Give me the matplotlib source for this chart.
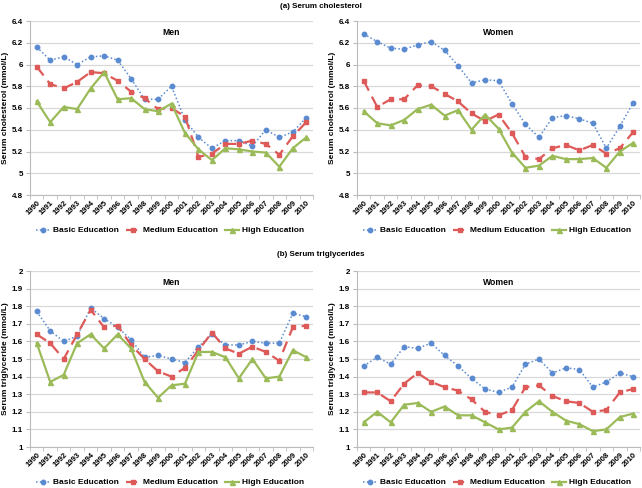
import matplotlib.pyplot as plt
import numpy as np

plt.rcParams["font.family"] = ["Liberation Sans", "DejaVu Sans"]

years = [str(y) for y in range(1990, 2011)]
groups = ["Basic Education", "Medium Education", "High Education"]

# (a) Serum cholesterol
chol_men_basic = [6.16, 6.04, 6.07, 6.00, 6.07, 6.08, 6.04, 5.87, 5.68, 5.68, 5.80,
                  5.49, 5.33, 5.23, 5.30, 5.30, 5.25, 5.40, 5.33, 5.38, 5.51]
chol_men_medium = [5.98, 5.82, 5.78, 5.84, 5.93, 5.92, 5.85, 5.75, 5.69, 5.59, 5.60,
                   5.52, 5.15, 5.18, 5.27, 5.27, 5.30, 5.27, 5.17, 5.34, 5.47]
chol_men_high = [5.66, 5.47, 5.61, 5.59, 5.78, 5.93, 5.68, 5.69, 5.59, 5.57, 5.64,
                 5.37, 5.22, 5.12, 5.23, 5.22, 5.20, 5.19, 5.06, 5.23, 5.33]
chol_women_basic = [6.28, 6.21, 6.15, 6.14, 6.18, 6.21, 6.13, 5.99, 5.83, 5.86, 5.85,
                    5.64, 5.45, 5.33, 5.51, 5.53, 5.50, 5.46, 5.23, 5.43, 5.65]
chol_women_medium = [5.85, 5.61, 5.68, 5.68, 5.81, 5.80, 5.73, 5.66, 5.55, 5.48, 5.54,
                     5.37, 5.15, 5.13, 5.23, 5.26, 5.21, 5.26, 5.18, 5.23, 5.38]
chol_women_high = [5.57, 5.46, 5.44, 5.49, 5.59, 5.63, 5.53, 5.58, 5.40, 5.54, 5.41,
                   5.19, 5.05, 5.07, 5.16, 5.13, 5.13, 5.14, 5.05, 5.20, 5.28]

# (b) Serum triglycerides
tg_men_basic = [1.77, 1.66, 1.60, 1.63, 1.79, 1.73, 1.68, 1.61, 1.51, 1.52, 1.50,
                1.48, 1.57, 1.64, 1.58, 1.58, 1.60, 1.59, 1.59, 1.76, 1.74]
tg_men_medium = [1.64, 1.59, 1.50, 1.64, 1.78, 1.68, 1.69, 1.58, 1.50, 1.43, 1.40,
                 1.45, 1.55, 1.65, 1.56, 1.53, 1.57, 1.54, 1.49, 1.68, 1.69]
tg_men_high = [1.59, 1.37, 1.41, 1.59, 1.64, 1.56, 1.64, 1.56, 1.37, 1.28, 1.35,
               1.36, 1.54, 1.54, 1.51, 1.39, 1.50, 1.39, 1.40, 1.55, 1.51]
tg_women_basic = [1.46, 1.51, 1.47, 1.57, 1.56, 1.59, 1.52, 1.46, 1.39, 1.33, 1.31,
                  1.34, 1.47, 1.50, 1.42, 1.45, 1.44, 1.34, 1.37, 1.42, 1.40]
tg_women_medium = [1.31, 1.31, 1.26, 1.36, 1.42, 1.37, 1.34, 1.32, 1.27, 1.20, 1.18,
                   1.21, 1.34, 1.35, 1.29, 1.26, 1.25, 1.20, 1.21, 1.31, 1.33]
tg_women_high = [1.14, 1.20, 1.14, 1.24, 1.25, 1.20, 1.23, 1.18, 1.18, 1.14, 1.10,
                 1.11, 1.20, 1.26, 1.20, 1.15, 1.13, 1.09, 1.10, 1.17, 1.19]

colors = ["#5A8BD0", "#DE5A58", "#9BBB59"]
styles = [
    dict(linestyle=(0, (1, 1.5)), marker="o", markersize=3.2, linewidth=1.1),
    dict(linestyle=(0, (5, 3)), marker="s", markersize=3.2, linewidth=1.6),
    dict(linestyle="-", marker="^", markersize=3.6, linewidth=1.6),
]

fig = plt.figure(figsize=(6.42, 4.88), dpi=100)
W, H = 642, 488


def draw_panel(ax, series, title, ylabel, ylim, yticks, ytick_labels):
    x = np.arange(len(years))
    for vals, color, st, name in zip(series, colors, styles, groups):
        ax.plot(x, vals, color=color, label=name, **st)
    ax.set_xlim(-0.5, len(years) - 0.5)
    ax.set_ylim(*ylim)
    ax.set_yticks(yticks)
    ax.set_yticklabels(ytick_labels, fontsize=5.8, fontweight="bold")
    ax.set_xticks(x)
    ax.set_xticklabels(years, rotation=45, fontsize=5.6, fontweight="bold",
                       ha="right", rotation_mode="anchor")
    ax.set_xticks(np.arange(-0.5, len(years)), minor=True)
    ax.tick_params(axis="x", which="major", length=0, pad=3)
    ax.tick_params(axis="x", which="minor", length=3, color="#BBBBBB")
    ax.tick_params(axis="y", length=3, color="#BBBBBB", pad=2)
    ax.grid(axis="y", color="#D9D9D9", linewidth=0.9)
    ax.set_axisbelow(True)
    for side in ["top", "right"]:
        ax.spines[side].set_visible(False)
    for side in ["left", "bottom"]:
        ax.spines[side].set_color("#BBBBBB")
        ax.spines[side].set_linewidth(0.8)
    ax.text(0.5, 0.935, title, transform=ax.transAxes, ha="center", va="center",
            fontsize=6.2, fontweight="bold")
    ax.set_ylabel(ylabel, fontsize=6, fontweight="bold", labelpad=2)
    # legend centred ~35 px below the plot area
    h_px = ax.get_position().height * H
    ax.legend(loc="center", bbox_to_anchor=(0.495, -35.5 / h_px), ncol=3, frameon=False,
              prop={"weight": "bold", "size": 6}, handlelength=1.7,
              columnspacing=0.9, handletextpad=0.3)


def add_axes(left, top, right, bottom):
    return fig.add_axes([left / W, 1 - bottom / H, (right - left) / W, (bottom - top) / H])


ax1 = add_axes(30, 21, 313, 195)
ax2 = add_axes(357, 21, 640, 195)
ax3 = add_axes(30, 271, 313, 447)
ax4 = add_axes(357, 271, 640, 447)

chol_ticks = [4.8, 5.0, 5.2, 5.4, 5.6, 5.8, 6.0, 6.2, 6.4]
chol_labels = ["4.8", "5", "5.2", "5.4", "5.6", "5.8", "6", "6.2", "6.4"]
tg_ticks = [1.0, 1.1, 1.2, 1.3, 1.4, 1.5, 1.6, 1.7, 1.8, 1.9, 2.0]
tg_labels = ["1", "1.1", "1.2", "1.3", "1.4", "1.5", "1.6", "1.7", "1.8", "1.9", "2"]

draw_panel(ax1, [chol_men_basic, chol_men_medium, chol_men_high], "Men",
           "Serum cholesterol (mmol/L)", (4.8, 6.4), chol_ticks, chol_labels)
draw_panel(ax2, [chol_women_basic, chol_women_medium, chol_women_high], "Women",
           "Serum cholesterol (mmol/L)", (4.8, 6.4), chol_ticks, chol_labels)
draw_panel(ax3, [tg_men_basic, tg_men_medium, tg_men_high], "Men",
           "Serum triglyceride (mmol/L)", (1.0, 2.0), tg_ticks, tg_labels)
draw_panel(ax4, [tg_women_basic, tg_women_medium, tg_women_high], "Women",
           "Serum triglyceride (mmol/L)", (1.0, 2.0), tg_ticks, tg_labels)

fig.text(0.5, 1 - 7 / H, "(a) Serum cholesterol", ha="center", va="center",
         fontsize=5.8, fontweight="bold")
fig.text(0.5, 1 - 255 / H, "(b) Serum triglycerides", ha="center", va="center",
         fontsize=5.8, fontweight="bold")

fig.savefig("out.png", dpi=100)
